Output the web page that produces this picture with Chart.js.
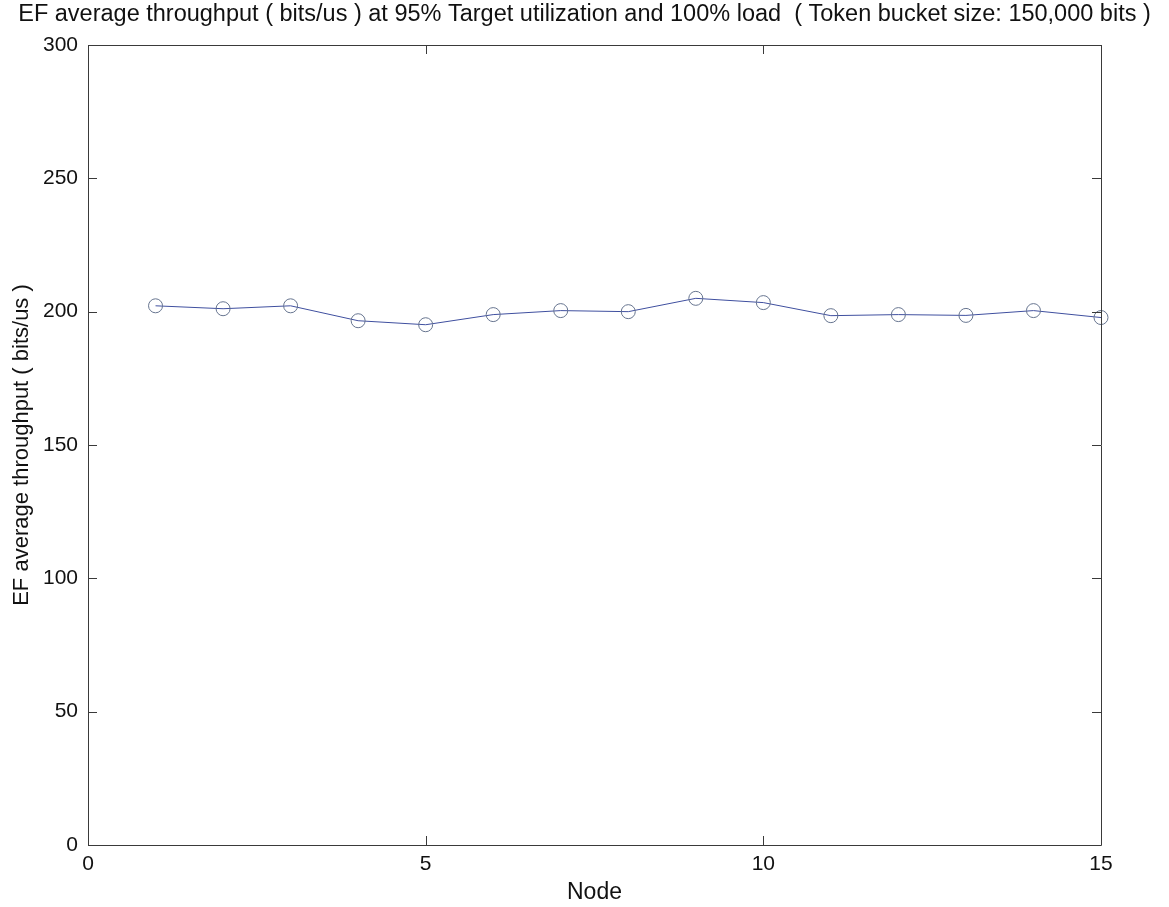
<!DOCTYPE html>
<html lang="en">
<head>
  <meta charset="UTF-8">
  <title>EF average throughput</title>
  <script src="https://cdn.jsdelivr.net/npm/chart.js@4.4.0/dist/chart.umd.min.js"></script>
  <style>
    html, body { margin: 0; padding: 0; background: #fff; }
    canvas { display: block; }
  </style>
</head>
<body>
  <canvas id="chart" width="1169" height="907"></canvas>
  <script>
    // values
    const nodes = [1, 2, 3, 4, 5, 6, 7, 8, 9, 10, 11, 12, 13, 14, 15];
    const throughput = [202.2, 201.1, 202.2, 196.6, 195.1, 198.9, 200.4, 200.0, 205.0, 203.4, 198.5, 198.9, 198.6, 200.4, 197.8];
    const xTicks = [0, 5, 10, 15];
    const yTicks = [0, 50, 100, 150, 200, 250, 300];

    const FONT = 'Liberation Sans, Arial, Helvetica, sans-serif';

    // MATLAB style box with inward tick marks on all four sides
    const boxPlugin = {
      id: 'boxPlugin',
      afterDatasetsDraw(chart) {
        const { ctx, chartArea: a, scales: { x, y } } = chart;
        const len = 9;
        ctx.save();
        ctx.strokeStyle = '#3a3a3a';
        ctx.lineWidth = 1;
        ctx.beginPath();
        ctx.rect(Math.round(a.left) + 0.5, Math.round(a.top) + 0.5,
                 Math.round(a.right - a.left), Math.round(a.bottom - a.top));
        xTicks.forEach(v => {
          const px = Math.round(x.getPixelForValue(v)) + 0.5;
          ctx.moveTo(px, a.bottom); ctx.lineTo(px, a.bottom - len);
          ctx.moveTo(px, a.top); ctx.lineTo(px, a.top + len);
        });
        yTicks.forEach(v => {
          const py = Math.round(y.getPixelForValue(v)) + 0.5;
          ctx.moveTo(a.left, py); ctx.lineTo(a.left + len, py);
          ctx.moveTo(a.right, py); ctx.lineTo(a.right - len, py);
        });
        ctx.stroke();
        ctx.restore();
      }
    };

    new Chart(document.getElementById('chart'), {
      type: 'line',
      data: {
        datasets: [{
          data: nodes.map((n, i) => ({ x: n, y: throughput[i] })),
          borderColor: '#3f4f9f',
          borderWidth: 1,
          pointStyle: 'circle',
          pointRadius: 7,
          pointBorderWidth: 1,
          pointBorderColor: '#66748f',
          pointBackgroundColor: 'rgba(0,0,0,0)',
          tension: 0,
          clip: false
        }]
      },
      options: {
        responsive: false,
        animation: false,
        layout: { padding: 0 },
        plugins: {
          legend: { display: false },
          tooltip: { enabled: false },
          title: {
            display: true,
            text: 'EF average throughput ( bits/us ) at 95% Target utilization and 100% load  ( Token bucket size: 150,000 bits )',
            color: '#111',
            font: { family: FONT, size: 23.5, weight: 'normal' },
            padding: { top: 0, bottom: 16.8 }
          }
        },
        scales: {
          x: {
            type: 'linear',
            min: 0,
            max: 15,
            afterBuildTicks: s => { s.ticks = xTicks.map(v => ({ value: v })); },
            afterFit: s => { s.height = 62; },
            grid: { display: false, drawTicks: false },
            border: { display: false },
            ticks: { color: '#111', padding: 7, font: { family: FONT, size: 21 } },
            title: {
              display: true,
              text: 'Node',
              color: '#111',
              font: { family: FONT, size: 23 },
              padding: { top: 0, bottom: 0.5 }
            }
          },
          y: {
            min: 0,
            max: 300,
            afterBuildTicks: s => { s.ticks = yTicks.map(v => ({ value: v })); },
            afterFit: s => { s.width = 88; },
            grid: { display: false, drawTicks: false },
            border: { display: false },
            ticks: { color: '#111', padding: 10, font: { family: FONT, size: 21 } },
            title: {
              display: true,
              text: 'EF average throughput ( bits/us )',
              color: '#111',
              font: { family: FONT, size: 22 },
              padding: { top: 8.8, bottom: 0 }
            }
          },
          // empty right-hand margin so the title centres on the whole page
          yRight: {
            position: 'right',
            min: 0,
            max: 300,
            afterFit: s => { s.width = 68; },
            grid: { display: false, drawTicks: false },
            border: { display: false },
            ticks: { display: false }
          }
        }
      },
      plugins: [boxPlugin]
    });
  </script>
</body>
</html>
